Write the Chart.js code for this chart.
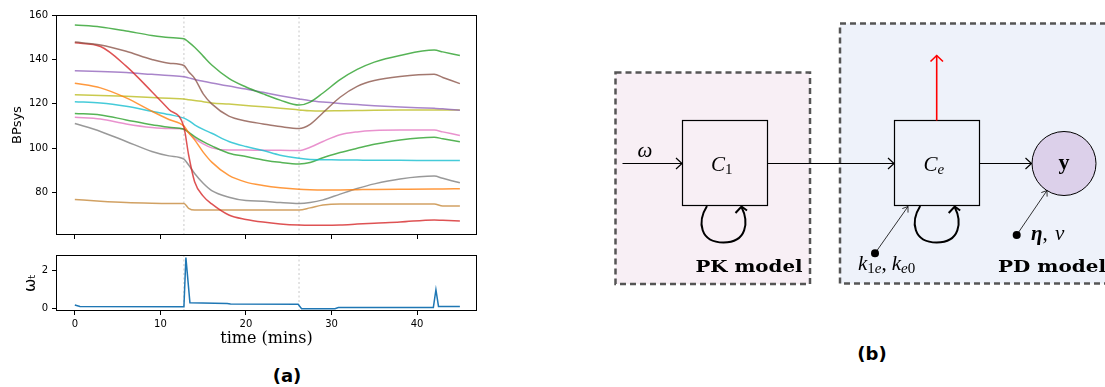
<!DOCTYPE html>
<html>
<head>
<meta charset="utf-8">
<script src="https://cdn.jsdelivr.net/npm/chart.js@4.4.1/dist/chart.umd.min.js"></script>
<style>
body { margin: 0; background: #fff; width: 1105px; height: 387px; overflow: hidden; position: relative; }
canvas { position: absolute; }
.letra { position: absolute; font: bold 18px 'DejaVu Sans'; transform: translate(-50%, -50%); }
</style>
</head>
<body>
<canvas id="graficoPresion" width="490" height="245" style="left:0;top:0"></canvas>
<canvas id="graficoOmega" width="490" height="105" style="left:0;top:245px"></canvas>
<div class="letra" style="left:287px;top:375px">(a)</div>
<div class="letra" style="left:872px;top:353px">(b)</div>

<!-- diagrama PK / PD -->
<svg width="1105" height="387" style="position:absolute;left:0;top:0" font-family="Liberation Serif">
  <rect x="615.5" y="72.5" width="194.5" height="211.5" fill="#f8eff5" stroke="#555" stroke-width="2.5" stroke-dasharray="6 4"/>
  <rect x="840" y="23.5" width="280" height="260" fill="#eef2fa" stroke="#555" stroke-width="2.5" stroke-dasharray="6 4"/>
  <circle cx="1064" cy="163.5" r="32" fill="#dcd0ea" stroke="#000" stroke-width="1"/>
  <g stroke="#000" fill="none" stroke-width="1.2">
    <rect x="682.5" y="120.5" width="85" height="85"/>
    <rect x="894.5" y="120.5" width="85" height="85"/>
    <line x1="622.5" y1="163.5" x2="682" y2="163.5"/>
    <path d="M676 158 L682 163.5 L676 169"/>
    <line x1="767.5" y1="163.5" x2="894" y2="163.5"/>
    <path d="M888 158 L894 163.5 L888 169"/>
    <line x1="979.5" y1="163.5" x2="1031.5" y2="163.5"/>
    <path d="M1025.5 158 L1031.5 163.5 L1025.5 169"/>
  </g>
  <g stroke="#000" fill="none" stroke-width="2">
    <path d="M707 206 C697 222 700 242.5 723.5 242.5 C747 242.5 749 222 741.5 207"/>
    <path d="M735.5 213 L741.5 206.5 L747 210.5"/>
    <path d="M920.2 206 C910.2 222 913.2 242.5 936.7 242.5 C960.2 242.5 962.2 222 954.7 207"/>
    <path d="M948.7 213 L954.7 206.5 L960.2 210.5"/>
  </g>
  <g stroke="#f00" fill="none" stroke-width="1.6">
    <line x1="936.7" y1="120.5" x2="936.7" y2="55.5"/>
    <path d="M930.5 61.5 L936.7 55.5 L943 61.5"/>
  </g>
  <g stroke="#000" fill="none" stroke-width="0.8">
    <line x1="875" y1="253.3" x2="908" y2="206.5"/>
    <path d="M902.3 208.6 L908 206.5 L908 212.6"/>
    <line x1="1016.7" y1="235" x2="1047" y2="190.5"/>
    <path d="M1041.3 192.6 L1047 190.5 L1047.1 196.6"/>
  </g>
  <circle cx="875" cy="253.3" r="4" fill="#000"/>
  <circle cx="1016.7" cy="235" r="4" fill="#000"/>
  <text x="645" y="156.5" font-size="21" font-style="italic" text-anchor="middle">ω</text>
  <text x="711" y="170.5" font-size="21" font-style="italic">C<tspan font-style="normal" font-size="15" dy="3">1</tspan></text>
  <text x="923.5" y="170.5" font-size="21" font-style="italic">C<tspan font-size="15" dy="3">e</tspan></text>
  <text x="1064" y="168.5" font-size="22" font-weight="bold" text-anchor="middle">y</text>
  <text x="1031" y="239.5" font-size="21"><tspan font-weight="bold" font-style="italic">η</tspan>, <tspan font-style="italic" dx="2">ν</tspan></text>
  <text x="858" y="269.5" font-size="21" font-style="italic">k<tspan font-size="15" dy="3" font-style="normal">1</tspan><tspan font-size="15">e</tspan><tspan dy="-3" font-style="normal">,</tspan><tspan dx="5">k</tspan><tspan font-size="15" dy="3">e</tspan><tspan font-size="15" font-style="normal">0</tspan></text>
  <text x="802.5" y="271.5" font-family="DejaVu Serif" font-weight="bold" font-size="16" text-anchor="end" textLength="107" lengthAdjust="spacingAndGlyphs">PK model</text>
  <text x="998" y="271.5" font-family="DejaVu Serif" font-weight="bold" font-size="16" textLength="108" lengthAdjust="spacingAndGlyphs">PD model</text>
</svg>

<script>
// tiempos comunes (min) para las curvas de presión
const tiempos = [0, 3, 6, 9, 11, 12.75, 13.3, 14, 15, 16, 18, 20, 22, 24, 26.2, 27.5, 29, 31, 33, 35, 38, 42, 43, 45];

const verde1  = [155.5, 154.6, 152.8, 150.8, 149.9, 149.3, 147.8, 145.5, 141.5, 137.5, 131.5, 127.6, 124.5, 121.7, 119.5, 120.8, 124.9, 130.9, 135.5, 138.8, 141.8, 144.2, 143.4, 141.8];
const cafe    = [147.8, 146.5, 143.7, 140, 138.3, 137.3, 134.5, 131.5, 124.5, 120, 114.5, 112.3, 111, 109.8, 108.9, 110.8, 116, 123, 127.9, 130.5, 132.3, 133.3, 131.9, 129.1];
const rojo    = [147.5, 145.8, 137, 125.5, 117.5, 109.5, 97, 85, 78.5, 75, 70, 68, 66.8, 66, 65.5, 65.4, 65.4, 65.5, 65.9, 66.3, 66.8, 67.8, 67.6, 67.3];
const morado  = [134.9, 134.6, 134.1, 133.3, 132.8, 132.2, 131.7, 131, 130.2, 129.4, 128, 126.7, 125.2, 123.7, 122.2, 121.4, 120.8, 120.2, 119.7, 119.2, 118.6, 118, 117.8, 117.1];
const naranja = [129.3, 127.2, 122.7, 116.7, 113, 110, 107, 103.8, 98.3, 93.8, 87.8, 84.8, 83.3, 82.3, 81.6, 81.4, 81.3, 81.3, 81.4, 81.5, 81.6, 81.7, 81.7, 81.8];
const oliva   = [124.1, 123.8, 123.4, 122.9, 122.5, 122.2, 121.9, 121.5, 121, 120.4, 119.9, 119.3, 118.7, 118, 117.3, 116.9, 116.8, 116.9, 117, 117.1, 117.2, 117.3, 117.3, 117.3];
const cian    = [121, 120.4, 118.9, 116.7, 115.2, 113.6, 112.5, 110.6, 108.5, 106.8, 103.1, 100.8, 99, 96.9, 95.5, 95, 94.9, 94.8, 94.7, 94.6, 94.6, 94.5, 94.5, 94.5];
const verde2  = [115.7, 115, 112.8, 110.6, 109.5, 108.6, 107.3, 105.3, 103, 101.1, 97.8, 96.3, 94.8, 93.7, 93, 93.6, 95.8, 98.1, 100, 101.8, 103.8, 105, 104.3, 103];
const rosa    = [114, 113.2, 111, 109.4, 108.9, 108.8, 107, 104.5, 102, 100.2, 99.2, 99.2, 99.1, 99.1, 99, 100.5, 103.1, 106.1, 107.4, 108, 108.2, 108.2, 107.4, 105.8];
const gris    = [111.2, 107.6, 103.1, 98.6, 96.6, 95.1, 92.5, 88.7, 84.3, 81, 78, 76.5, 76.2, 75.6, 75.2, 75.6, 76.8, 79.4, 81.9, 84, 86.2, 87.5, 86.5, 84.5];
const ocre    = [77, 76.2, 75.6, 75.3, 75.2, 75.2, 73, 72.2, 72.2, 72.2, 72.2, 72.2, 72.2, 72.2, 72.2, 73.2, 74.5, 75, 75, 75, 75, 75, 74, 74];

// dosis omega_t
const tiemposOmega = [0, 0.6, 12.75, 12.98, 13.45, 17.8, 18.2, 26.1, 26.5, 30.4, 30.8, 41.9, 42.2, 42.5, 45];
const omega        = [0.2, 0.12, 0.11, 2.7, 0.32, 0.28, 0.25, 0.23, 0.0, 0.0, 0.06, 0.07, 1.0, 0.12, 0.12];

// instantes de cambio (líneas punteadas)
const cambios = [12.75, 26.2];

const ticksTiempo  = [0, 10, 20, 30, 40];
const ticksPresion = [80, 100, 120, 140, 160];
const ticksOmega   = [0, 2];

const series = [
    [verde1,  '#2ca02c'],
    [cafe,    '#8c564b'],
    [rojo,    '#d62728'],
    [morado,  '#9467bd'],
    [naranja, '#ff7f0e'],
    [oliva,   '#bcbd22'],
    [cian,    '#17becf'],
    [verde2,  '#2ca02c'],
    [rosa,    '#e377c2'],
    [gris,    '#7f7f7f'],
    [ocre,    '#c68a3c']
];

// marco negro alrededor del área (como matplotlib)
const marco = {
    id: 'marco',
    afterDraw(chart) {
        const { ctx, chartArea: a } = chart;
        ctx.save();
        ctx.strokeStyle = '#000';
        ctx.lineWidth = 1;
        ctx.strokeRect(Math.round(a.left) + 0.5, Math.round(a.top) + 0.5,
            Math.round(a.right - a.left) - 1, Math.round(a.bottom - a.top) - 1);
        ctx.restore();
    }
};

function lineasPunteadas(yMin, yMax) {
    return cambios.map(t => ({
        data: [{ x: t, y: yMin }, { x: t, y: yMax }],
        borderColor: '#c8c8c8',
        borderDash: [2, 2.5],
        borderWidth: 1,
        pointRadius: 0
    }));
}

function ejeX(mostrarEtiquetas, alto) {
    return {
        type: 'linear', min: -2.2, max: 47,
        afterBuildTicks: s => { s.ticks = ticksTiempo.map(v => ({ value: v })); },
        afterFit: s => { s.height = alto; },
        ticks: { display: mostrarEtiquetas, color: '#000', padding: 3, font: { family: 'DejaVu Sans', size: 10 } },
        grid: { drawOnChartArea: false, drawTicks: true, tickLength: 4, color: '#000', tickColor: '#000' },
        border: { display: false },
        title: {
            display: mostrarEtiquetas, text: 'time (mins)', color: '#000',
            font: { family: 'DejaVu Serif', size: 16 }, padding: { top: 0, bottom: 2 }
        }
    };
}

function ejeY(min, max, marcas, titulo, tam, sep) {
    return {
        type: 'linear', min: min, max: max,
        afterBuildTicks: s => { s.ticks = marcas.map(v => ({ value: v })); },
        afterFit: s => { s.width = 56; },
        ticks: { color: '#000', padding: 4, font: { family: 'DejaVu Sans', size: 10 } },
        grid: { drawOnChartArea: false, drawTicks: true, tickLength: 4, color: '#000', tickColor: '#000' },
        border: { display: false },
        title: {
            display: true, text: titulo, color: '#000',
            font: { family: 'DejaVu Sans', size: tam }, padding: { top: sep, bottom: 0 }
        }
    };
}

const opcionesBase = {
    responsive: false,
    animation: false,
    devicePixelRatio: 1,
    plugins: { legend: { display: false }, tooltip: { enabled: false } }
};

const datosPresion = series.map(([valores, color]) => ({
    data: tiempos.map((t, i) => ({ x: t, y: valores[i] })),
    borderColor: color + 'cc',
    borderWidth: 1.5,
    pointRadius: 0,
    cubicInterpolationMode: 'monotone'
}));

new Chart(document.getElementById('graficoPresion'), {
    type: 'line',
    data: { datasets: datosPresion.concat(lineasPunteadas(61, 160)) },
    options: Object.assign({}, opcionesBase, {
        layout: { padding: { top: 15, right: 13, left: 0, bottom: 0 } },
        scales: {
            x: ejeX(false, 10),
            y: ejeY(61, 160, ticksPresion, 'BPsys', 13, 10)
        }
    }),
    plugins: [marco]
});

new Chart(document.getElementById('graficoOmega'), {
    type: 'line',
    data: {
        datasets: [{
            data: tiemposOmega.map((t, i) => ({ x: t, y: omega[i] })),
            borderColor: '#1f77b4',
            borderWidth: 1.5,
            pointRadius: 0,
            tension: 0
        }].concat(lineasPunteadas(-0.12, 2.83))
    },
    options: Object.assign({}, opcionesBase, {
        layout: { padding: { top: 7, right: 13, left: 0, bottom: 0 } },
        scales: {
            x: ejeX(true, 39),
            y: ejeY(-0.12, 2.83, ticksOmega, 'ωₜ', 16, 21)
        }
    }),
    plugins: [marco]
});
</script>
</body>
</html>
